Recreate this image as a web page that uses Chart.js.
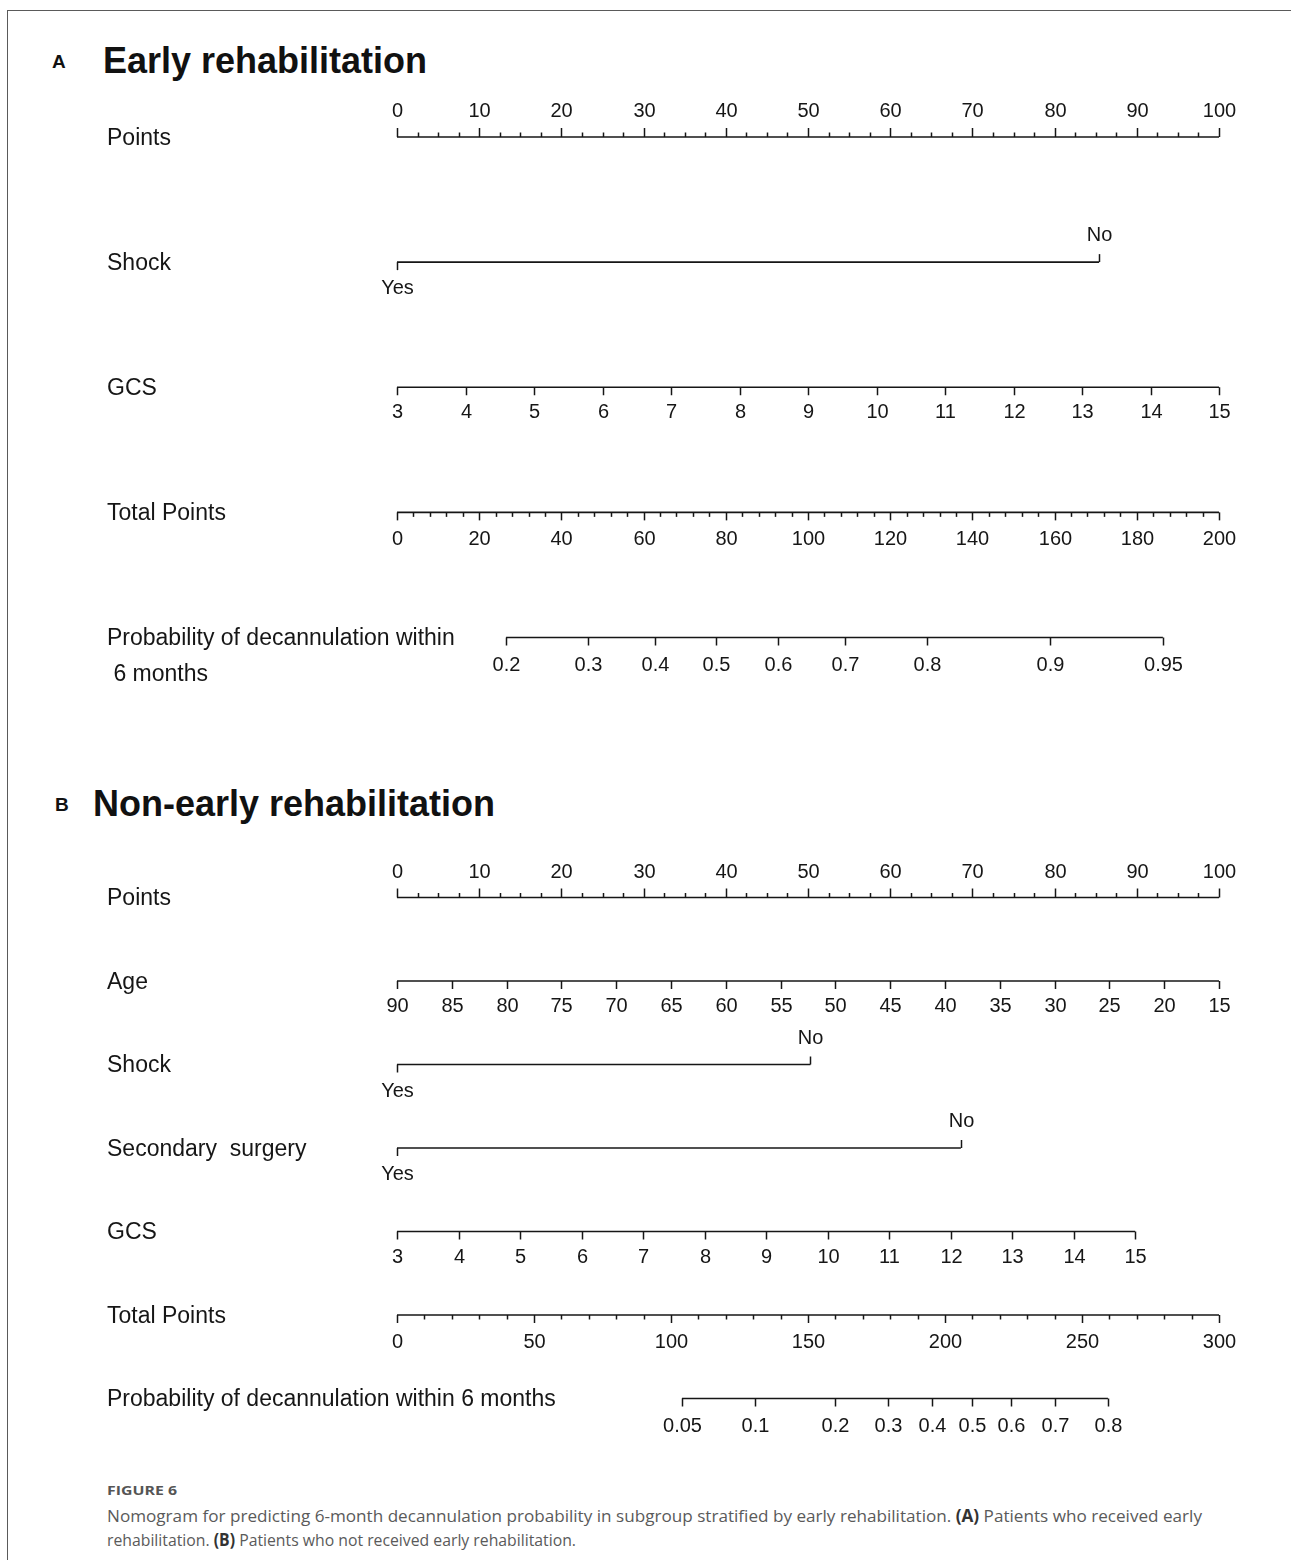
<!DOCTYPE html>
<html>
<head>
<meta charset="utf-8">
<title>Nomogram – decannulation within 6 months</title>
<script src="https://cdn.jsdelivr.net/npm/chart.js@4.4.1/dist/chart.umd.min.js"></script>
<style>
  html, body { margin: 0; padding: 0; background: #fff; }
  body { width: 1291px; height: 1560px; position: relative; overflow: hidden;
         font-family: "Liberation Sans", Arial, sans-serif; color: #111; }
  .frame { position: absolute; left: 7px; top: 10px; right: -4px; bottom: -4px;
           border-top: 1.5px solid #5a5a5a; border-left: 1.5px solid #5a5a5a; }
  .letter { position: absolute; font-weight: bold; font-size: 19px; line-height: 1; }
  .title { position: absolute; font-weight: bold; font-size: 36px; line-height: 1; white-space: nowrap; }
  .chartbox { position: absolute; left: 0; width: 1291px; }
  .caption { position: absolute; left: 107px; font-family: "Open Sans", "Noto Sans", sans-serif;
             color: #5a5a5a; white-space: nowrap; transform-origin: 0 50%; }
  .caption b { color: #333; }
  .fig { font-size: 12.5px; font-weight: bold; color: #555; top: 1482px; }
  .cap1 { font-size: 17px; top: 1504px; }
  .cap2 { font-size: 17px; top: 1528px; }
</style>
</head>
<body>
<div class="frame"></div>

<div class="letter" style="left:52px;top:52px;">A</div>
<div class="title" style="left:103px;top:43px;">Early rehabilitation</div>
<div class="chartbox" style="top:80px;height:640px;"><canvas id="nomoA" width="1291" height="640"></canvas></div>

<div class="letter" style="left:55px;top:795px;">B</div>
<div class="title" style="left:93px;top:786px;">Non-early rehabilitation</div>
<div class="chartbox" style="top:840px;height:600px;"><canvas id="nomoB" width="1291" height="600"></canvas></div>

<div class="caption fig" id="capFig">FIGURE 6</div>
<div class="caption cap1" id="cap1">Nomogram for predicting 6-month decannulation probability in subgroup stratified by early rehabilitation. <b>(A)</b> Patients who received early</div>
<div class="caption cap2" id="cap2">rehabilitation. <b>(B)</b> Patients who not received early rehabilitation.</div>

<script>
// ---------- shared points scale ----------
const POINT_LABELS = [0, 10, 20, 30, 40, 50, 60, 70, 80, 90, 100];
const POINT_MINOR_STEP = 2.5;

// ---------- A: early rehabilitation ----------
const SHOCK_A_LEVELS = ['Yes', 'No'];
const SHOCK_A_POINTS = [0, 85.4];
const GCS_A_LABELS = [3, 4, 5, 6, 7, 8, 9, 10, 11, 12, 13, 14, 15];
const GCS_A_POINT_RANGE = [0, 100];          // points at GCS 3 and GCS 15
const TOTAL_A_LABELS = [0, 20, 40, 60, 80, 100, 120, 140, 160, 180, 200];
const TOTAL_A_MINOR_STEP = 4;
const PROB_A_LABELS = [0.2, 0.3, 0.4, 0.5, 0.6, 0.7, 0.8, 0.9, 0.95];
const PROB_A_TP_AT_HALF = 77.7;              // total points where probability = 0.5
const PROB_A_TP_PER_LOGIT = 36.9;            // total points per unit of log-odds

// ---------- B: non-early rehabilitation ----------
const AGE_B_LABELS = [90, 85, 80, 75, 70, 65, 60, 55, 50, 45, 40, 35, 30, 25, 20, 15];
const AGE_B_POINT_RANGE = [0, 100];          // points at age 90 and age 15
const SHOCK_B_LEVELS = ['Yes', 'No'];
const SHOCK_B_POINTS = [0, 50.3];
const SURGERY_B_LEVELS = ['Yes', 'No'];
const SURGERY_B_POINTS = [0, 68.6];
const GCS_B_LABELS = [3, 4, 5, 6, 7, 8, 9, 10, 11, 12, 13, 14, 15];
const GCS_B_POINT_RANGE = [0, 89.8];
const TOTAL_B_LABELS = [0, 50, 100, 150, 200, 250, 300];
const TOTAL_B_MINOR_STEP = 10;
const PROB_B_LABELS = [0.05, 0.1, 0.2, 0.3, 0.4, 0.5, 0.6, 0.7, 0.8];
const PROB_B_TP_AT_HALF = 209.7;
const PROB_B_TP_PER_LOGIT = 35.9;

// ---------- styling ----------
const INK = '#161616';
const LABEL_FONT = '23px "Liberation Sans", Arial, sans-serif';
const TICK_FONT = '20px "Liberation Sans", Arial, sans-serif';
const MAJOR_LEN = 8, MINOR_LEN = 4.5;
const LABEL_GAP = 25.5, TOTAL_LABEL_GAP = 27.5, PROB_LABEL_GAP = 28;
const ROW_LABEL_X = 107;

// ---------- row builders ----------
function pointsRow(names) {
  const ticks = [];
  const max = POINT_LABELS[POINT_LABELS.length - 1];
  for (let v = 0; v <= max + 1e-9; v += POINT_MINOR_STEP) {
    const major = POINT_LABELS.includes(v);
    ticks.push({ value: v, side: 'up', len: major ? MAJOR_LEN + 1 : MINOR_LEN, text: major ? String(v) : null });
  }
  return { names, scale: 'x', span: [0, max], ticks, gap: LABEL_GAP };
}

function continuousRow(names, labels, pointRange) {
  const lo = labels[0], hi = labels[labels.length - 1];
  const toPts = v => pointRange[0] + (v - lo) / (hi - lo) * (pointRange[1] - pointRange[0]);
  return {
    names, scale: 'x', span: [pointRange[0], pointRange[1]], gap: LABEL_GAP,
    ticks: labels.map(v => ({ value: toPts(v), side: 'down', len: MAJOR_LEN, text: String(v) }))
  };
}

function binaryRow(names, levels, pts) {
  return {
    names, scale: 'x', span: [pts[0], pts[1]], gap: LABEL_GAP + 1,
    ticks: [
      { value: pts[0], side: 'down', len: MAJOR_LEN, text: levels[0] },
      { value: pts[1], side: 'up', len: MAJOR_LEN, text: levels[1] }
    ]
  };
}

function totalRow(names, labels, minorStep) {
  const max = labels[labels.length - 1];
  const ticks = [];
  for (let v = 0; v <= max + 1e-9; v += minorStep) {
    const major = labels.includes(v);
    ticks.push({ value: v, side: 'down', len: major ? MAJOR_LEN : MINOR_LEN, text: major ? String(v) : null });
  }
  return { names, scale: 'tp', span: [0, max], ticks, gap: TOTAL_LABEL_GAP };
}

function probRow(names, probs, tpHalf, tpPerLogit) {
  const tp = p => tpHalf + Math.log(p / (1 - p)) * tpPerLogit;
  const vals = probs.map(tp);
  return {
    names, scale: 'tp', span: [vals[0], vals[vals.length - 1]], gap: PROB_LABEL_GAP,
    ticks: probs.map((p, i) => ({ value: vals[i], side: 'down', len: MAJOR_LEN, text: String(p) }))
  };
}

// ---------- drawing of ticks and labels through the chart scales ----------
const nomogramPlugin = {
  id: 'nomogramTicks',
  afterDatasetsDraw(chart) {
    const rows = chart.config.options.plugins.nomogramTicks.rows;
    const ctx = chart.ctx;
    const yScale = chart.scales.y;
    ctx.save();
    ctx.strokeStyle = INK;
    ctx.fillStyle = INK;
    ctx.lineWidth = 1.5;
    rows.forEach((row, r) => {
      const y = yScale.getPixelForValue(r);
      const xs = chart.scales[row.scale];
      // row name(s) on the left
      ctx.font = LABEL_FONT;
      ctx.textAlign = 'left';
      ctx.textBaseline = 'middle';
      row.names.forEach((n, k) => ctx.fillText(n, ROW_LABEL_X, y + 1.5 + k * 36));
      // ticks and tick labels
      ctx.font = TICK_FONT;
      ctx.textAlign = 'center';
      row.ticks.forEach(t => {
        const x = Math.round(xs.getPixelForValue(t.value)) + 0.5;
        const dir = t.side === 'up' ? -1 : 1;
        ctx.beginPath();
        ctx.moveTo(x, y);
        ctx.lineTo(x, y + dir * t.len);
        ctx.stroke();
        if (t.text) ctx.fillText(t.text, x, y + dir * row.gap);
      });
    });
    ctx.restore();
  }
};

function makeNomogram(canvasId, rows, totalMax, padTop, padBottom) {
  const datasets = rows.map((row, r) => ({
    xAxisID: row.scale,
    yAxisID: 'y',
    data: [{ x: row.span[0], y: r }, { x: row.span[1], y: r }],
    showLine: true,
    borderColor: INK,
    borderWidth: 1.6,
    pointRadius: 0,
    clip: false
  }));
  return new Chart(document.getElementById(canvasId), {
    type: 'scatter',
    data: { datasets },
    options: {
      responsive: false,
      animation: false,
      devicePixelRatio: 1,
      layout: { padding: { left: 397, right: 72, top: padTop, bottom: padBottom } },
      plugins: {
        legend: { display: false },
        tooltip: { enabled: false },
        nomogramTicks: { rows }
      },
      scales: {
        x: { type: 'linear', min: 0, max: 100, display: false },
        tp: { type: 'linear', axis: 'x', min: 0, max: totalMax, display: false },
        y: { type: 'linear', min: 0, max: rows.length - 1, reverse: true, display: false }
      }
    },
    plugins: [nomogramPlugin]
  });
}

const rowsA = [
  pointsRow(['Points']),
  binaryRow(['Shock'], SHOCK_A_LEVELS, SHOCK_A_POINTS),
  continuousRow(['GCS'], GCS_A_LABELS, GCS_A_POINT_RANGE),
  totalRow(['Total Points'], TOTAL_A_LABELS, TOTAL_A_MINOR_STEP),
  probRow(['Probability of decannulation within', ' 6 months'], PROB_A_LABELS, PROB_A_TP_AT_HALF, PROB_A_TP_PER_LOGIT)
];
const rowsB = [
  pointsRow(['Points']),
  continuousRow(['Age'], AGE_B_LABELS, AGE_B_POINT_RANGE),
  binaryRow(['Shock'], SHOCK_B_LEVELS, SHOCK_B_POINTS),
  binaryRow(['Secondary  surgery'], SURGERY_B_LEVELS, SURGERY_B_POINTS),
  continuousRow(['GCS'], GCS_B_LABELS, GCS_B_POINT_RANGE),
  totalRow(['Total Points'], TOTAL_B_LABELS, TOTAL_B_MINOR_STEP),
  probRow(['Probability of decannulation within 6 months'], PROB_B_LABELS, PROB_B_TP_AT_HALF, PROB_B_TP_PER_LOGIT)
];

makeNomogram('nomoA', rowsA, TOTAL_A_LABELS[TOTAL_A_LABELS.length - 1], 57, 82.5);
makeNomogram('nomoB', rowsB, TOTAL_B_LABELS[TOTAL_B_LABELS.length - 1], 57.5, 41.5);

// caption line widths set to the column width
function fitWidth(id, target) {
  const el = document.getElementById(id);
  const w = el.getBoundingClientRect().width;
  if (w > 0) el.style.transform = 'scaleX(' + (target / w) + ')';
}
fitWidth('cap1', 1095);
fitWidth('cap2', 469);
fitWidth('capFig', 70);
</script>
</body>
</html>
